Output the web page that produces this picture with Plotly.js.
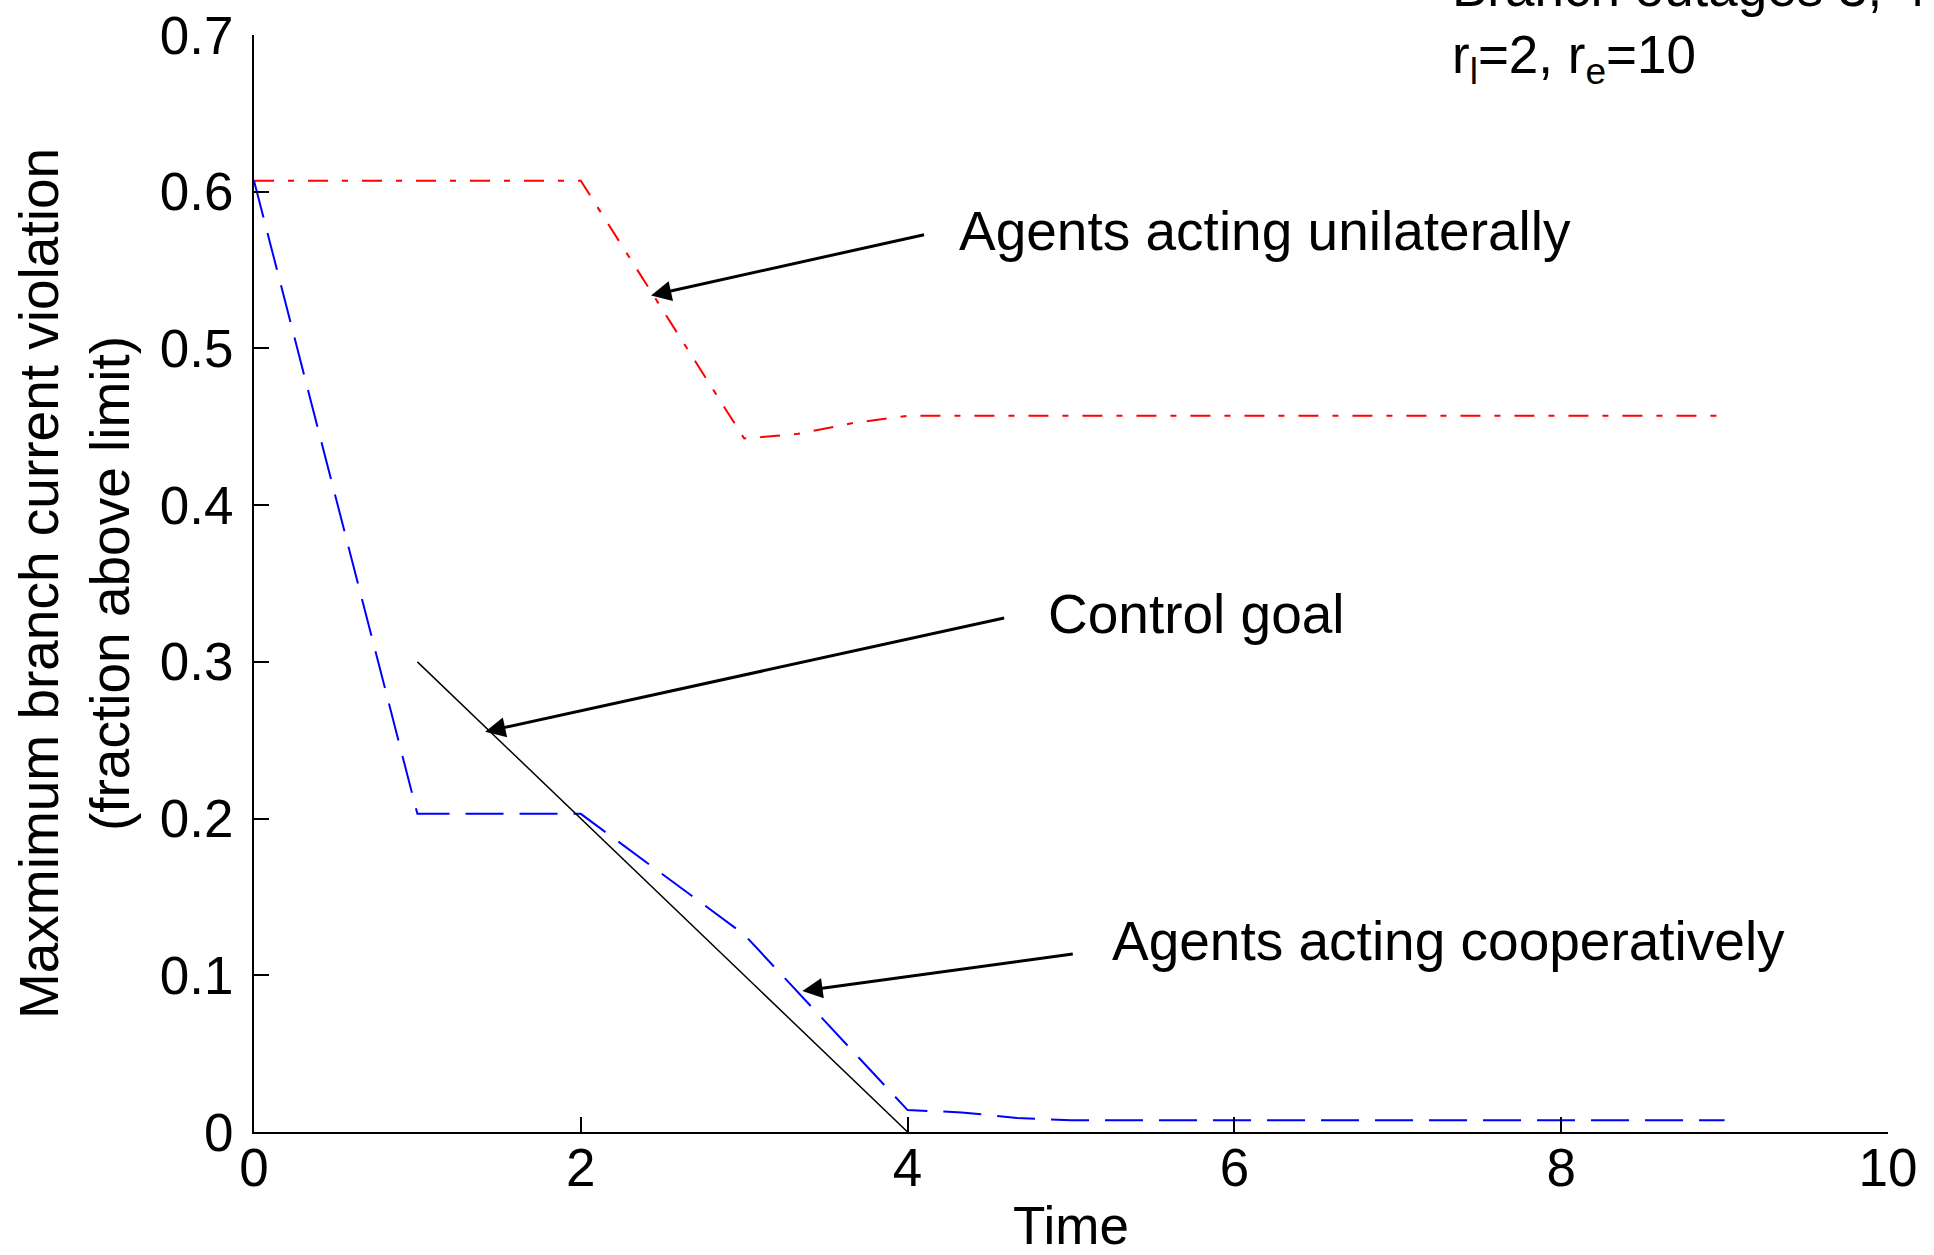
<!DOCTYPE html>
<html>
<head>
<meta charset="utf-8">
<script src="https://cdn.plot.ly/plotly-3.0.1.min.js"></script>
<style>
  html, body { margin: 0; padding: 0; background: #ffffff; }
  #chart { width: 1934px; height: 1255px; }
</style>
</head>
<body>
<div id="chart"></div>
<script>
// Branch-current violation over time for the three control strategies
var timeUnilateral = [0, 2, 3, 3.33, 3.67, 4, 9];
var violationUnilateral = [0.607, 0.607, 0.4425, 0.4455, 0.4525, 0.457, 0.457];

var timeCooperative = [0, 1, 2, 3, 4, 4.33, 4.67, 5, 9];
var violationCooperative = [0.607, 0.203, 0.203, 0.126, 0.014, 0.0125, 0.009, 0.0075, 0.0075];

var timeGoal = [1, 4];
var violationGoal = [0.3, 0];

var xTicks = [0, 2, 4, 6, 8, 10];
var yTicks = [0, 0.1, 0.2, 0.3, 0.4, 0.5, 0.6, 0.7];
var yTickLabels = ['0', '0.1', '0.2', '0.3', '0.4', '0.5', '0.6', '0.7'];

// Callout labels: text anchor, arrow tail and arrow tip (data units)
var calloutText = ['Agents acting unilaterally', 'Control goal', 'Agents acting cooperatively'];
var calloutTextX = [4.30, 4.85, 5.24];
var calloutTextY = [0.5747, 0.3308, 0.122];
var arrowTailX = [4.11, 4.60, 5.02];
var arrowTailY = [0.5728, 0.3282, 0.1137];
var arrowTipX = [2.43, 1.415, 3.356];
var arrowTipY = [0.5338, 0.2554, 0.090];

var FONT = 'Arial, "Liberation Sans", sans-serif';

var traces = [
  {
    x: timeUnilateral, y: violationUnilateral,
    type: 'scatter', mode: 'lines', name: 'Agents acting unilaterally',
    line: { color: '#ff0000', width: 2, dash: '20px,14px,6px,14px' }
  },
  {
    x: timeCooperative, y: violationCooperative,
    type: 'scatter', mode: 'lines', name: 'Agents acting cooperatively',
    line: { color: '#0000ff', width: 2, dash: '38px,16px' }
  },
  {
    x: timeGoal, y: violationGoal,
    type: 'scatter', mode: 'lines', name: 'Control goal',
    line: { color: '#000000', width: 1.5 }
  }
];

var annotations = [];
for (var i = 0; i < calloutText.length; i++) {
  annotations.push({
    x: arrowTipX[i], y: arrowTipY[i], xref: 'x', yref: 'y',
    ax: arrowTailX[i], ay: arrowTailY[i], axref: 'x', ayref: 'y',
    text: '', showarrow: true, arrowhead: 2, arrowsize: 1.35,
    arrowwidth: 3, arrowcolor: '#000000', standoff: 0, startstandoff: 0
  });
  annotations.push({
    x: calloutTextX[i], y: calloutTextY[i], xref: 'x', yref: 'y',
    text: calloutText[i], showarrow: false,
    xanchor: 'left', yanchor: 'middle',
    font: { family: FONT, size: 55, color: '#000000' }
  });
}
annotations.push({
  x: 0.732, y: 1.0437, xref: 'paper', yref: 'paper',
  text: 'Branch outages 3, 4', showarrow: false,
  xanchor: 'left', yanchor: 'middle',
  font: { family: FONT, size: 53, color: '#000000' }
});
annotations.push({
  x: 0.732, y: 0.979, xref: 'paper', yref: 'paper',
  text: 'r<sub>l</sub>=2, r<sub>e</sub>=10', showarrow: false,
  xanchor: 'left', yanchor: 'middle',
  font: { family: FONT, size: 53, color: '#000000' }
});

var layout = {
  width: 1934, height: 1255,
  margin: { l: 254, r: 46, t: 35, b: 123, pad: 0 },
  paper_bgcolor: '#ffffff', plot_bgcolor: '#ffffff',
  showlegend: false,
  font: { family: FONT, size: 53, color: '#000000' },
  xaxis: {
    range: [0, 10], tickvals: xTicks, ticktext: xTicks.map(String),
    ticks: 'inside', ticklen: 15, tickwidth: 2, tickcolor: '#000000',
    showline: true, linewidth: 2, linecolor: '#000000', mirror: false,
    showgrid: false, zeroline: false, automargin: false,
    ticklabelstandoff: -12,
    tickfont: { family: FONT, size: 53, color: '#000000' },
    title: { text: 'Time', standoff: 38, font: { family: FONT, size: 53, color: '#000000' } }
  },
  yaxis: {
    range: [0, 0.7], tickvals: yTicks, ticktext: yTickLabels,
    ticks: 'inside', ticklen: 15, tickwidth: 2, tickcolor: '#000000',
    showline: true, linewidth: 2, linecolor: '#000000', mirror: false,
    showgrid: false, zeroline: false, automargin: false,
    ticklabelstandoff: 8,
    tickfont: { family: FONT, size: 53, color: '#000000' },
    title: {
      text: 'Maxmimum branch current violation<br>(fraction above limit)',
      standoff: 12, font: { family: FONT, size: 55, color: '#000000' }
    }
  },
  annotations: annotations
};

Plotly.newPlot('chart', traces, layout, { displayModeBar: false, staticPlot: true });
</script>
</body>
</html>
